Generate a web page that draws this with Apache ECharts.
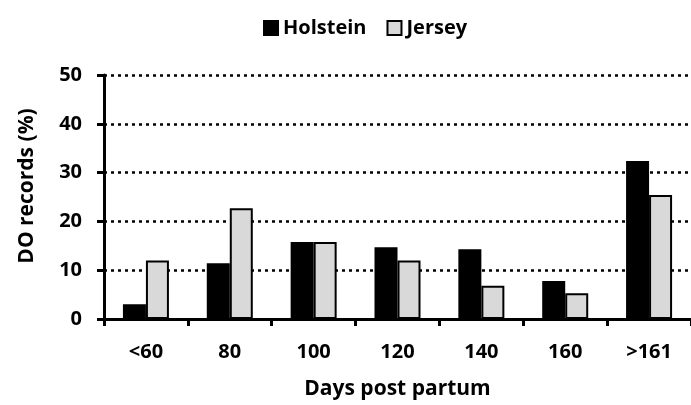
<!DOCTYPE html>
<html>
<head>
<meta charset="utf-8">
<script src="https://cdn.jsdelivr.net/npm/echarts@6/dist/echarts.min.js"></script>
<style>html,body{margin:0;padding:0;background:#fff}#c{width:691px;height:405px}</style>
</head>
<body>
<div id="c"></div>
<script>
const categories = ['<60', '80', '100', '120', '140', '160', '>161'];
const holstein = [3.0, 11.4, 15.8, 14.7, 14.3, 7.8, 32.4];
const jersey = [12.0, 22.7, 15.8, 12.0, 6.8, 5.3, 25.4];
const yTicks = [0, 10, 20, 30, 40, 50];

const FONT = 'Open Sans';
const chart = echarts.init(document.getElementById('c'), null, {renderer: 'canvas'});
chart.setOption({
  animation: false,
  textStyle: {fontFamily: FONT},
  legend: {
    top: 13,
    left: 258,
    itemWidth: 14,
    itemHeight: 14,
    itemGap: 20,
    icon: 'rect',
    textStyle: {fontFamily: FONT, fontWeight: 'bold', fontSize: 20, color: '#000'},
    data: ['Holstein', 'Jersey']
  },
  grid: {left: 104, top: 75, height: 249, width: 596, containLabel: false},
  xAxis: {
    type: 'category',
    data: categories,
    name: 'Days post partum',
    nameLocation: 'middle',
    nameGap: 60,
    nameTextStyle: {fontFamily: FONT, fontWeight: 'bold', fontSize: 21, color: '#000'},
    axisLine: {lineStyle: {color: '#000', width: 3}},
    axisTick: {show: true, alignWithLabel: false, length: 7, lineStyle: {color: '#000', width: 3}},
    axisLabel: {fontFamily: FONT, fontWeight: 'bold', fontSize: 20, color: '#000', margin: 23}
  },
  yAxis: {
    type: 'value',
    min: yTicks[0],
    max: yTicks[yTicks.length - 1],
    interval: 10,
    name: 'DO records (%)',
    nameLocation: 'middle',
    nameGap: 66,
    nameRotate: 90,
    nameTextStyle: {fontFamily: FONT, fontWeight: 'bold', fontSize: 21, color: '#000', padding: [0, 0, 0, 22]},
    axisLine: {show: true, lineStyle: {color: '#000', width: 3}},
    axisTick: {show: true, length: 7, lineStyle: {color: '#000', width: 3}},
    axisLabel: {fontFamily: FONT, fontWeight: 'bold', fontSize: 20, color: '#000', margin: 22},
    splitLine: {show: true, lineStyle: {color: '#000', width: 2.5, type: [3, 4]}}
  },
  series: [
    {
      name: 'Holstein', type: 'bar', data: holstein,
      barWidth: 23, barGap: '0%',
      itemStyle: {color: '#000', borderColor: '#000', borderWidth: 2}
    },
    {
      name: 'Jersey', type: 'bar', data: jersey,
      barWidth: 23, barGap: '0%',
      itemStyle: {color: '#d9d9d9', borderColor: '#000', borderWidth: 2}
    }
  ]
});
</script>
</body>
</html>
